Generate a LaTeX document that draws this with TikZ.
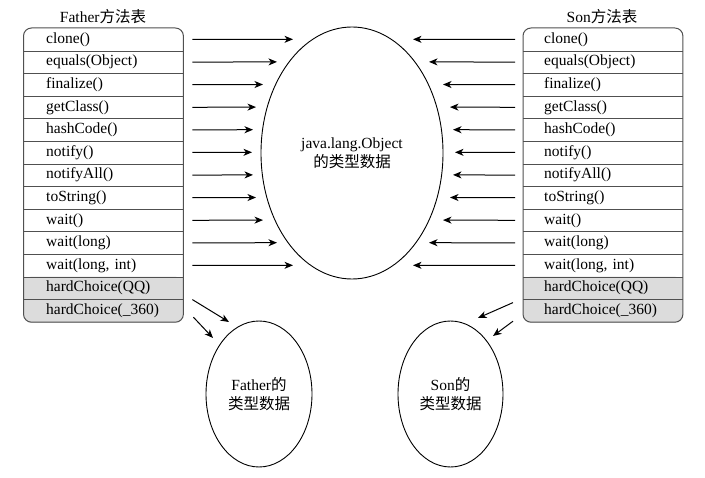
\documentclass[tikz,border=0pt]{standalone}
\usepackage{fontspec}
\setmainfont{Liberation Serif}
\newfontfamily\cjk{Noto Sans CJK SC}
\usetikzlibrary{arrows.meta,shapes.geometric}
\definecolor{framec}{HTML}{505050}
\definecolor{rowgray}{HTML}{DCDCDC}
\tikzset{
  rowL/.style={rectangle,inner xsep=22.5pt,inner ysep=0pt,text width=114.5pt,minimum height=22.6pt,align=left,anchor=north west,font=\fontsize{15.5}{18}\selectfont},
  rowR/.style={rectangle,inner xsep=21pt,inner ysep=0pt,text width=117.5pt,minimum height=22.6pt,align=left,anchor=north west,font=\fontsize{15.5}{18}\selectfont},
  frame/.style={draw=framec,line width=1pt,rounded corners=8pt},
  sep/.style={draw=framec,line width=0.9pt},
  arr/.style={line width=1pt,-{Stealth[length=8.5pt,width=7pt,inset=2.5pt]}},
  blob/.style={ellipse,draw,line width=0.9pt,inner sep=0pt,align=center,font=\fontsize{15.5}{19}\selectfont},
  title/.style={font=\fontsize{15.5}{18}\selectfont}
}
\begin{document}
\begin{tikzpicture}[x=1pt,y=-1pt]
\useasboundingbox (0,0) rectangle (705,478);
% gray rows (drawn first, beneath the row texts)
\fill[rowgray,rounded corners=8pt] (23.5,276.6) rectangle (183,322.8);
\fill[rowgray] (23.5,276.6) rectangle (183,299.2);
\fill[rowgray,rounded corners=8pt] (523,276.6) rectangle (682.5,322.8);
\fill[rowgray] (523,276.6) rectangle (682.5,299.2);
% rows
\foreach \t [count=\i] in {clone(),equals(Object),finalize(),getClass(),hashCode(),notify(),notifyAll(),toString(),wait(),wait(long),{wait(long, int)},hardChoice(QQ),hardChoice(\_360)}{
  \node[rowL] (L\i) at (23.5,{28+22.6*(\i-1)}) {\t};
  \node[rowR] (R\i) at (523,{28+22.6*(\i-1)}) {\t};
}
% frames
\draw[frame] (L1.north west) rectangle (L13.south east);
\draw[frame] (R1.north west) rectangle (R13.south east);
\foreach \i in {1,...,12}{
  \draw[sep] (L\i.south west) -- (L\i.south east);
  \draw[sep] (R\i.south west) -- (R\i.south east);
}
% titles
\node[title] (tf) at (103,17) {Father{\cjk 方法表}};
\node[title] (ts) at (602,17) {Son{\cjk 方法表}};
% ellipses
\node[blob,minimum width=182pt,minimum height=252pt] (obj) at (352,153) {java.lang.Object\\{\cjk 的类型数据}};
\node[blob,minimum width=106pt,minimum height=146pt] (fa) at (259,394) {Father{\cjk 的}\\{\cjk 类型数据}};
\node[blob,minimum width=105pt,minimum height=146pt] (so) at (450.5,394) {Son{\cjk 的}\\{\cjk 类型数据}};
% arrows to object
\foreach \i/\lx/\rx in {1/293/413,2/277/429,3/263/443,4/256/450,5/253/453,6/252/455,7/253/453,8/256/450,9/263/443,10/277/429,11/293/413}{
  \coordinate (la\i) at (\lx,{28+22.6*(\i-0.5)});
  \coordinate (ra\i) at (\rx,{28+22.6*(\i-0.5)});
  \draw[arr] ([xshift=9pt]L\i.east) -- (la\i);
  \draw[arr] ([xshift=-8pt]R\i.west) -- (ra\i);
}
% arrows to Father / Son
\coordinate (fs1) at ([xshift=9pt]L12.south east);
\coordinate (fs2) at ([xshift=10pt,yshift=5pt]L13.south east);
\coordinate (fe1) at (229,322);
\coordinate (fe2) at (213,338);
\draw[arr] (fs1) -- (fe1);
\draw[arr] (fs2) -- (fe2);
\coordinate (ss1) at ([xshift=-10pt,yshift=-3pt]R12.south west);
\coordinate (ss2) at ([xshift=-10pt,yshift=1pt]R13.south west);
\coordinate (se1) at (478,318);
\coordinate (se2) at (493,336);
\draw[arr] (ss1) -- (se1);
\draw[arr] (ss2) -- (se2);
\end{tikzpicture}
\end{document}
